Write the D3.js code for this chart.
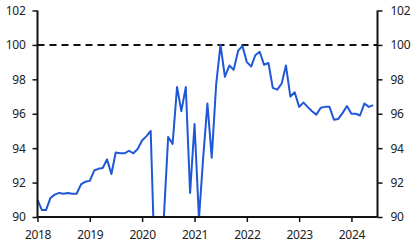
<!DOCTYPE html>
<html>
<head>
<meta charset="utf-8">
<script src="https://cdn.jsdelivr.net/npm/d3@7"></script>
<style>
  body { margin: 0; background: #fff; }
  svg text { font-family: "Noto Sans", "Open Sans", sans-serif; font-size: 12px; letter-spacing: -0.3px; fill: #222; }
  .axis path, .axis line { stroke: #111; }
</style>
</head>
<body>
<svg id="chart" width="420" height="248"></svg>
<script>
// monthly index, Jan 2018 .. May 2024
var startMonth = '2018-01',
    values = [
      91.0, 90.4, 90.4, 91.1, 91.3, 91.4, 91.35, 91.4, 91.35, 91.35, 91.9, 92.05,
      92.1, 92.7, 92.8, 92.85, 93.35, 92.5, 93.75, 93.7, 93.7, 93.85, 93.7, 93.95,
      94.45, 94.7, 95.0, 86.5, 83.0, 90.0, 94.65, 94.25, 97.55, 96.15, 97.55, 91.4,
      95.4, 89.9, 93.3, 96.6, 93.45, 97.7, 100.0, 98.15, 98.8, 98.55, 99.65, 99.95,
      99.0, 98.75, 99.4, 99.6, 98.85, 98.95, 97.5, 97.4, 97.75, 98.8, 97.0, 97.25,
      96.4, 96.65, 96.4, 96.15, 95.95, 96.35, 96.4, 96.4, 95.65, 95.7, 96.05, 96.45,
      96.0, 96.0, 95.9, 96.6, 96.4, 96.5
    ],
    yTicks = [90, 92, 94, 96, 98, 100, 102],
    xTickYears = [2018, 2019, 2020, 2021, 2022, 2023, 2024],
    refLevel = 100;

var svg = d3.select('#chart'),
    margin = {left: 37.5, right: 42.5, top: 10.5, bottom: 31},
    width = 420 - margin.left - margin.right,
    height = 248 - margin.top - margin.bottom,
    parse = d3.timeParse('%Y-%m'),
    t0 = parse(startMonth);

var data = values.map(function(v, i) { return {date: d3.timeMonth.offset(t0, i), value: v}; });

var x = d3.scaleTime()
      .domain([t0, new Date(2024, 6, 1)])
      .range([0, width]),
    y = d3.scaleLinear().domain([90, 102]).range([height, 0]);

var g = svg.append('g').attr('transform', 'translate(' + margin.left + ',' + margin.top + ')');

g.append('clipPath').attr('id', 'plot-clip')
  .append('rect').attr('x', -2).attr('y', -2).attr('width', width + 4).attr('height', height + 2);

// reference line at 100
g.append('line')
  .attr('x1', 0).attr('x2', width)
  .attr('y1', y(refLevel)).attr('y2', y(refLevel))
  .attr('stroke', '#111').attr('stroke-width', 2)
  .attr('stroke-dasharray', '7,5');

g.append('path').datum(data)
  .attr('clip-path', 'url(#plot-clip)')
  .attr('fill', 'none')
  .attr('stroke', '#1f58d6')
  .attr('stroke-width', 2)
  .attr('stroke-linejoin', 'round')
  .attr('d', d3.line().x(function(d) { return x(d.date); }).y(function(d) { return y(d.value); }));

var leftAxis = g.append('g').attr('class', 'axis')
  .call(d3.axisLeft(y).tickValues(yTicks).tickSize(5).tickPadding(7).tickFormat(d3.format('d')));
var rightAxis = g.append('g').attr('class', 'axis')
  .attr('transform', 'translate(' + width + ',0)')
  .call(d3.axisRight(y).tickValues(yTicks).tickSize(5).tickPadding(8).tickFormat(d3.format('d')));
var bottomAxis = g.append('g').attr('class', 'axis')
  .attr('transform', 'translate(0,' + height + ')')
  .call(d3.axisBottom(x)
    .tickValues(xTickYears.map(function(yr) { return new Date(yr, 0, 1); }))
    .tickSize(5).tickPadding(8).tickFormat(d3.timeFormat('%Y')));

[leftAxis, rightAxis, bottomAxis].forEach(function(a) {
  a.select('.domain').attr('stroke-width', 2);
  a.selectAll('.tick line').attr('stroke-width', 1.5);
  a.selectAll('text').attr('fill', '#222');
});
leftAxis.select('.domain').attr('d', 'M0,' + height + 'V0');
rightAxis.select('.domain').attr('d', 'M0,' + height + 'V0');
bottomAxis.select('.domain').attr('d', 'M0,0H' + width);
</script>
</body>
</html>
